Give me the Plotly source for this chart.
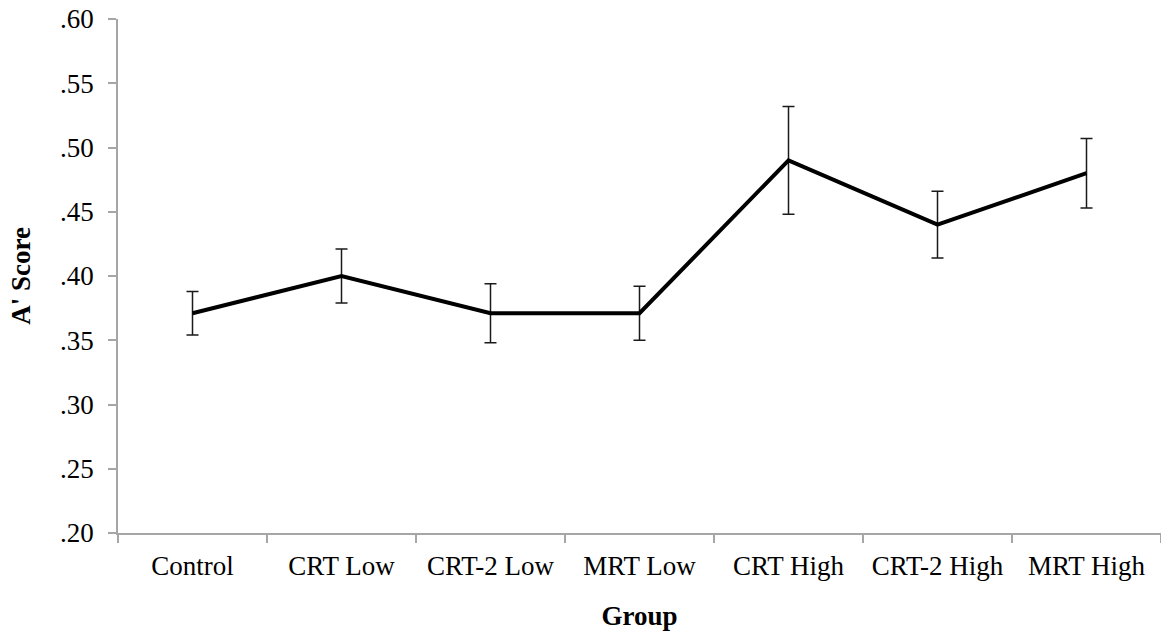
import plotly.graph_objects as go

groups = ["Control", "CRT Low", "CRT-2 Low", "MRT Low", "CRT High", "CRT-2 High", "MRT High"]
a_score = [0.371, 0.400, 0.371, 0.371, 0.490, 0.440, 0.480]
a_error = [0.017, 0.021, 0.023, 0.021, 0.042, 0.026, 0.027]
y_ticks = [0.20, 0.25, 0.30, 0.35, 0.40, 0.45, 0.50, 0.55, 0.60]
y_tick_text = [".20", ".25", ".30", ".35", ".40", ".45", ".50", ".55", ".60"]

FONT = "Liberation Serif, Times New Roman, serif"
AXIS_GRAY = "#a6a6a6"
FS = 27

fig = go.Figure()
fig.add_trace(go.Scatter(
    x=groups, y=a_score, mode="lines",
    line=dict(color="black", width=4),
    error_y=dict(type="data", array=a_error, visible=True,
                 color="#1a1a1a", thickness=1.5, width=6),
    showlegend=False,
))

fig.update_layout(
    width=1161, height=634,
    margin=dict(l=118, r=0, t=19, b=101),
    paper_bgcolor="white", plot_bgcolor="white",
    font=dict(family=FONT, size=FS, color="black"),
)
fig.update_xaxes(
    type="category", tickson="boundaries", range=[-0.5, 6.5],
    showline=True, linecolor=AXIS_GRAY, linewidth=1.5,
    ticks="outside", ticklen=8, tickcolor=AXIS_GRAY, tickwidth=1.5,
    ticklabelstandoff=8, automargin=False,
    showgrid=False, zeroline=False,
    tickfont=dict(family=FONT, size=FS, color="black"),
    title=dict(text="<b>Group</b>", font=dict(family=FONT, size=FS, color="black"), standoff=26),
)
fig.update_yaxes(
    range=[0.20, 0.60], tickvals=y_ticks, ticktext=y_tick_text,
    showline=True, linecolor=AXIS_GRAY, linewidth=1.5,
    ticks="outside", ticklen=8, tickcolor=AXIS_GRAY, tickwidth=1.5,
    ticklabelstandoff=9, ticklabeloverflow="allow", automargin=False,
    showgrid=False, zeroline=False,
    tickfont=dict(family=FONT, size=FS, color="black"),
    title=dict(text="<b>A' Score</b>", font=dict(family=FONT, size=FS, color="black"), standoff=22),
)

fig.write_html("out.html", config={"displayModeBar": False},
               post_script="document.body.style.margin='0';")
